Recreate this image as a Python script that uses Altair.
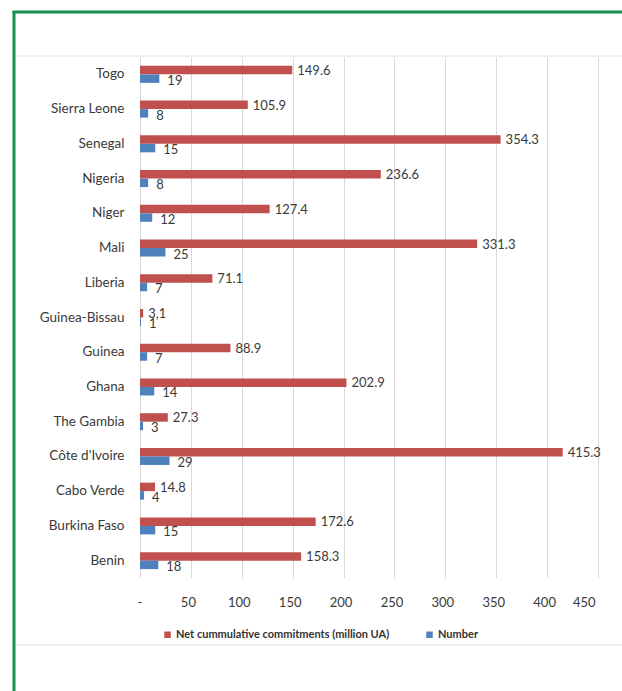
import altair as alt
import pandas as pd

countries = ["Togo", "Sierra Leone", "Senegal", "Nigeria", "Niger", "Mali", "Liberia",
             "Guinea-Bissau", "Guinea", "Ghana", "The Gambia", "Côte d'Ivoire",
             "Cabo Verde", "Burkina Faso", "Benin"]
commitments = [149.6, 105.9, 354.3, 236.6, 127.4, 331.3, 71.1, 3.1, 88.9, 202.9,
               27.3, 415.3, 14.8, 172.6, 158.3]
commit_labels = ["149.6", "105.9", "354.3", "236.6", "127.4", "331.3", "71.1", "3,1",
                 "88.9", "202.9", "27.3", "415.3", "14.8", "172.6", "158.3"]
numbers = [19, 8, 15, 8, 12, 25, 7, 1, 7, 14, 3, 29, 4, 15, 18]
series_names = ["Net cummulative commitments (million UA)", "Number"]
series_colors = ["#c0504d", "#4f81bd"]
x_ticks = [0, 50, 100, 150, 200, 250, 300, 350, 400, 450]

rows = []
for c, v, l in zip(countries, commitments, commit_labels):
    rows.append({"country": c, "series": series_names[0], "value": v, "label": l})
for c, n in zip(countries, numbers):
    rows.append({"country": c, "series": series_names[1], "value": n, "label": str(n)})
df = pd.DataFrame(rows)

FONT = "Lato"
TXT = "#3a3a3a"
NB = "\u00a0"

x_enc = alt.X("value:Q",
              scale=alt.Scale(domain=[0, 450], nice=False, zero=True),
              axis=alt.Axis(values=x_ticks, title=None, grid=True, gridColor="#d9d9d9",
                            domain=False, ticks=False, labelFontSize=13, labelFont=FONT,
                            labelColor=TXT, labelPadding=18, labelOffset=-3,
                            labelExpr="datum.value == 0 ? '-" + NB * 3 + "' : datum.label"))
y_enc = alt.Y("country:N", sort=countries,
              scale=alt.Scale(paddingInner=0, paddingOuter=0),
              axis=alt.Axis(title=None, domain=False, ticks=False, labelFontSize=13.5,
                            labelFont=FONT, labelColor=TXT, labelPadding=16))
color_enc = alt.Color("series:N",
                      scale=alt.Scale(domain=series_names, range=series_colors),
                      legend=alt.Legend(title=None, orient="none", direction="horizontal",
                                        legendX=22, legendY=572, symbolType="square",
                                        symbolSize=42, symbolStrokeWidth=0,
                                        labelFontSize=11, labelFont=FONT, labelLimit=400,
                                        labelFontWeight="bold", labelColor="#333333",
                                        columnPadding=34, labelOffset=3))

base = alt.Chart(df)
red = base.transform_filter(alt.datum.series == series_names[0])
blue = base.transform_filter(alt.datum.series == series_names[1])

red_bar = red.mark_bar(height=8.5, yOffset=-4.25).encode(x=x_enc, y=y_enc, color=color_enc)
blue_bar = blue.mark_bar(height=8.5, yOffset=4.25).encode(x=x_enc, y=y_enc, color=color_enc)
red_txt = red.mark_text(align="left", baseline="middle", dx=5, dy=-3.5, fontSize=13,
                        font=FONT, color=TXT).encode(x=x_enc, y=y_enc, text="label:N")
blue_txt = blue.mark_text(align="left", baseline="middle", dx=8, dy=6.5, fontSize=13,
                          font=FONT, color=TXT).encode(x=x_enc, y=y_enc, text="label:N")

deco = alt.Data(values=[{"k": 1}])
green_v = alt.Chart(deco).mark_rule(color="#179150", strokeWidth=3).encode(
    x=alt.value(-126), y=alt.value(-46), y2=alt.value(640))
green_h = alt.Chart(deco).mark_rule(color="#179150", strokeWidth=3).encode(
    x=alt.value(-127.5), x2=alt.value(490), y=alt.value(-45))
gray_top = alt.Chart(deco).mark_rule(color="#e3e3e3", strokeWidth=1).encode(
    x=alt.value(-124), x2=alt.value(490), y=alt.value(-1))
gray_bot = alt.Chart(deco).mark_rule(color="#e3e3e3", strokeWidth=1).encode(
    x=alt.value(-124), x2=alt.value(490), y=alt.value(588))

chart = alt.layer(gray_top, gray_bot, red_bar, blue_bar, red_txt, blue_txt, green_v, green_h).properties(
    width=458, height=521,
    padding={"left": 140, "top": 57, "right": 24, "bottom": 113},
    autosize="none",
    background="white",
).configure_view(stroke=None)

chart.save("out.html", embed_options={"renderer": "svg", "actions": False})
